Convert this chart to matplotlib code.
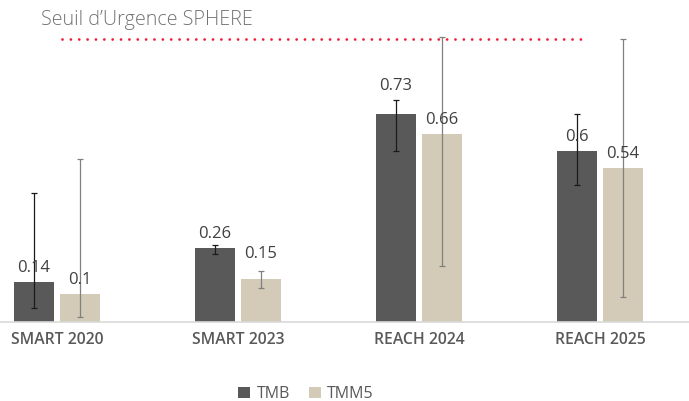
import matplotlib.pyplot as plt
import numpy as np

categories = ["SMART 2020", "SMART 2023", "REACH 2024", "REACH 2025"]
tmb = [0.14, 0.26, 0.73, 0.6]
tmm5 = [0.1, 0.15, 0.66, 0.54]
# intervalles de confiance (bornes basses / hautes)
tmb_low = [0.048, 0.239, 0.601, 0.480]
tmb_high = [0.452, 0.270, 0.782, 0.731]
tmm5_low = [0.019, 0.120, 0.198, 0.088]
tmm5_high = [0.572, 0.180, 1.003, 0.993]
seuil = 0.995

plt.rcParams['font.family'] = ['Open Sans', 'DejaVu Sans']

fig = plt.figure(figsize=(6.89, 4.01), dpi=100)
ax = fig.add_axes([0, 79 / 401, 1, 322 / 401])

x = np.arange(len(categories))
w = 40 / 181
off = 23 / 181

err_tmb = [np.array(tmb) - np.array(tmb_low), np.array(tmb_high) - np.array(tmb)]
err_tmm5 = [np.array(tmm5) - np.array(tmm5_low), np.array(tmm5_high) - np.array(tmm5)]

ax.bar(x - off, tmb, w, color="#595959", label="TMB", zorder=2)
ax.bar(x + off, tmm5, w, color="#d3cbb8", label="TMM5", zorder=2)
ax.errorbar(x - off, tmb, yerr=err_tmb, fmt="none", ecolor="#1a1a1a",
            elinewidth=0.9, capsize=2.2, capthick=0.9, zorder=3)
ax.errorbar(x + off, tmm5, yerr=err_tmm5, fmt="none", ecolor="#808080",
            elinewidth=0.9, capsize=2.2, capthick=0.9, zorder=3)

# labels de valeurs (décalage plus grand là où l'erreur gêne)
extra_tmb = [0, 0, 14, 0]
extra_tmm5 = [0, 11, 0, 0]
for i in range(len(categories)):
    ax.annotate(f"{tmb[i]:g}", (x[i] - off, tmb[i]), xytext=(0, 6 + extra_tmb[i]),
                textcoords="offset pixels", ha="center", va="bottom",
                fontsize=12, color="#404040", zorder=4)
    ax.annotate(f"{tmm5[i]:g}", (x[i] + off, tmm5[i]), xytext=(0, 6 + extra_tmm5[i]),
                textcoords="offset pixels", ha="center", va="bottom",
                fontsize=12, color="#404040", zorder=4)

# seuil d'urgence
ax.plot([(62 - 57) / 181, (582 - 57) / 181], [seuil, seuil], color="#ee1c3a",
        linestyle=(0, (0.01, 3)), linewidth=2.0, dash_capstyle="round", zorder=1)
fig.text(41 / 689, 1 - 20 / 401, "Seuil d\u2019Urgence SPHERE", fontsize=14.2,
         color="#737373", fontweight="light", va="center", ha="left")

ax.set_xlim(-57 / 181, (689 - 57) / 181)
ax.set_ylim(0, 322 / 284.5)
ax.set_xticks(x)
ax.set_xticklabels(categories, fontsize=11.3, color="#595959", fontweight="semibold")
ax.tick_params(axis="x", length=0, pad=7)
ax.set_yticks([])
for s in ["top", "right", "left"]:
    ax.spines[s].set_visible(False)
ax.spines["bottom"].set_color("#d9d9d9")
ax.spines["bottom"].set_linewidth(1.2)

fig.legend(loc="center", bbox_to_anchor=(306 / 689, 1 - 394 / 401), ncol=2,
           frameon=False, fontsize=11.5, labelcolor="#595959", handlelength=0.75,
           handleheight=0.75, handletextpad=0.4, columnspacing=1.2)

fig.savefig("out.png", dpi=100)
